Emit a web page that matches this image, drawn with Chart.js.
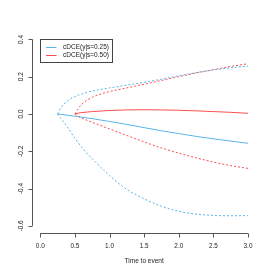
<!DOCTYPE html>
<html>
<head>
<meta charset="utf-8">
<script src="https://cdn.jsdelivr.net/npm/chart.js@4"></script>
<style>
  html, body { margin: 0; padding: 0; background: #fff; }
  #wrap { width: 273px; height: 273px; }
</style>
</head>
<body>
<div id="wrap"><canvas id="cdce" width="273" height="273"></canvas></div>
<script>
// time grid (both series share it; s=0.50 starts at 0.5)
const time = [0.25, 0.3, 0.4, 0.5, 0.55, 0.6, 0.75, 1.0, 1.25, 1.5, 1.75, 2.0, 2.25, 2.5, 2.75, 3.0];

const est25 = [0, -0.002, -0.007, -0.012, -0.014, -0.017, -0.025, -0.040, -0.056, -0.073, -0.090, -0.105, -0.120, -0.133, -0.145, -0.157];
const up25  = [0, 0.035, 0.072, 0.093, 0.101, 0.107, 0.123, 0.140, 0.155, 0.170, 0.187, 0.205, 0.222, 0.236, 0.248, 0.257];
const lo25  = [0, -0.025, -0.075, -0.130, -0.155, -0.180, -0.240, -0.330, -0.405, -0.455, -0.495, -0.522, -0.537, -0.544, -0.546, -0.545];

const est50 = [null, null, null, 0, 0.005, 0.008, 0.013, 0.019, 0.022, 0.023, 0.022, 0.020, 0.017, 0.013, 0.009, 0.004];
const up50  = [null, null, null, 0, 0.030, 0.052, 0.090, 0.120, 0.140, 0.160, 0.180, 0.200, 0.220, 0.238, 0.255, 0.270];
const lo50  = [null, null, null, 0, -0.012, -0.022, -0.045, -0.080, -0.115, -0.150, -0.182, -0.210, -0.235, -0.258, -0.277, -0.292];

const xTicks = [0.0, 0.5, 1.0, 1.5, 2.0, 2.5, 3.0];
const yTicks = [-0.6, -0.4, -0.2, 0.0, 0.2, 0.4];
const legendLabels = ["cDCE(y|s=0.25)", "cDCE(y|s=0.50)"];
const xTitle = "Time to event";

const BLUE = "#5ab4ea";
const RED = "#ff4d4d";
const FONT = "Liberation Sans, Arial, sans-serif";

function pts(vals) {
    return time.map((t, i) => ({ x: t, y: vals[i] })).filter(p => p.y !== null);
}

function line(vals, color, dotted) {
    return {
        data: pts(vals),
        borderColor: color,
        borderWidth: 1,
        borderDash: dotted ? [2, 2] : [],
        pointRadius: 0,
        fill: false,
        cubicInterpolationMode: "monotone"
    };
}

// R-style axes: line only between first and last tick, outward ticks
const baseAxes = {
    id: "baseAxes",
    afterDraw(chart) {
        const { ctx, scales: { x, y }, chartArea } = chart;
        ctx.save();
        ctx.strokeStyle = "#555";
        ctx.fillStyle = "#222";
        ctx.lineWidth = 1;
        ctx.font = `6.4px ${FONT}`;

        const yb = Math.round(chartArea.bottom) + 0.5;
        ctx.beginPath();
        ctx.moveTo(x.getPixelForValue(xTicks[0]), yb);
        ctx.lineTo(x.getPixelForValue(xTicks[xTicks.length - 1]), yb);
        xTicks.forEach(v => {
            const px = Math.round(x.getPixelForValue(v)) + 0.5;
            ctx.moveTo(px, yb);
            ctx.lineTo(px, yb + 4);
        });
        ctx.stroke();
        ctx.textAlign = "center";
        ctx.textBaseline = "middle";
        xTicks.forEach(v => ctx.fillText(v.toFixed(1), x.getPixelForValue(v), yb + 12.5));

        const xl = Math.round(chartArea.left) + 0.5;
        ctx.beginPath();
        ctx.moveTo(xl, y.getPixelForValue(yTicks[0]));
        ctx.lineTo(xl, y.getPixelForValue(yTicks[yTicks.length - 1]));
        yTicks.forEach(v => {
            const py = Math.round(y.getPixelForValue(v)) + 0.5;
            ctx.moveTo(xl, py);
            ctx.lineTo(xl - 4, py);
        });
        ctx.stroke();
        yTicks.forEach(v => {
            ctx.save();
            ctx.translate(xl - 11.5, y.getPixelForValue(v));
            ctx.rotate(-Math.PI / 2);
            ctx.fillText(v.toFixed(1), 0, 0);
            ctx.restore();
        });

        ctx.font = `6.5px ${FONT}`;
        ctx.fillText(xTitle, x.getPixelForValue(1.5), yb + 27.5);

        // legend box
        ctx.strokeStyle = "#444";
        ctx.strokeRect(40.5, 39.5, 72, 23);
        const colors = [BLUE, RED];
        ctx.textAlign = "left";
        legendLabels.forEach((lab, i) => {
            const ly = 47 + i * 7.7;
            ctx.strokeStyle = colors[i];
            ctx.beginPath();
            ctx.moveTo(46, Math.round(ly) + 0.5);
            ctx.lineTo(56.5, Math.round(ly) + 0.5);
            ctx.stroke();
            ctx.fillStyle = "#222";
            ctx.fillText(lab, 63, ly + 0.5);
        });
        ctx.restore();
    }
};

new Chart(document.getElementById("cdce"), {
    type: "line",
    data: {
        datasets: [
            line(up25, BLUE, true),
            line(lo25, BLUE, true),
            line(up50, RED, true),
            line(lo50, RED, true),
            line(est25, BLUE, false),
            line(est50, RED, false)
        ]
    },
    options: {
        responsive: false,
        animation: false,
        devicePixelRatio: 1,
        layout: { padding: { left: 32, right: 16.7, top: 32, bottom: 39.7 } },
        plugins: { legend: { display: false }, tooltip: { enabled: false } },
        scales: {
            x: { type: "linear", min: -0.12, max: 3.12, display: false },
            y: { type: "linear", min: -0.64, max: 0.44, display: false }
        }
    },
    plugins: [baseAxes]
});
</script>
</body>
</html>
